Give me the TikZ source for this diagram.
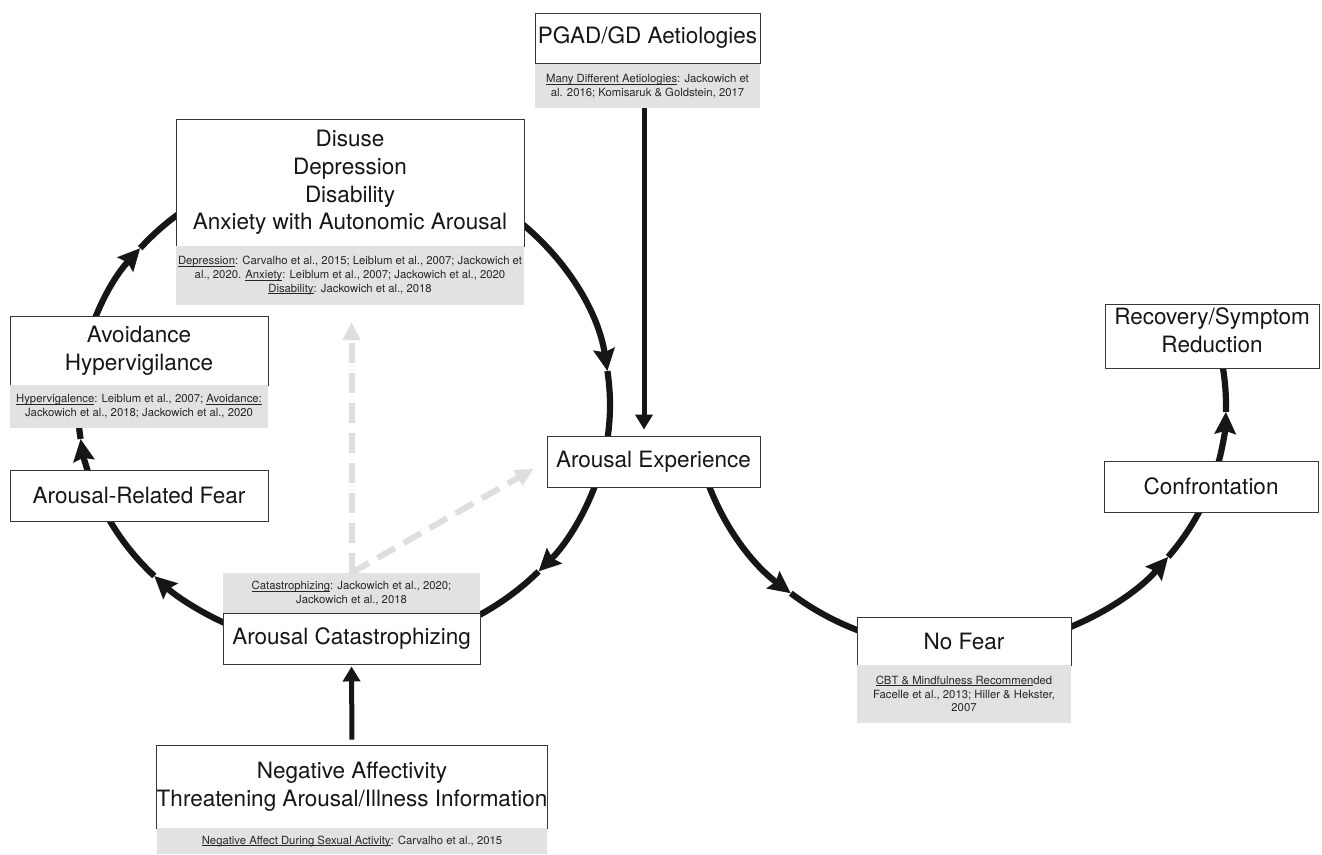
\documentclass[tikz,border=0pt]{standalone}
\usepackage{fontspec}
\setmainfont{TeX Gyre Heros}
\usetikzlibrary{arrows.meta,calc}
\definecolor{citegrey}{RGB}{226,226,226}
\definecolor{dashgrey}{RGB}{222,222,222}
\definecolor{ink}{RGB}{22,22,22}
\newcommand{\bigfnt}{\fontsize{22.5}{27.7}\selectfont}
\newcommand{\smallfnt}{\fontsize{11.3}{13.8}\selectfont}
\newcommand{\ulx}[1]{\leavevmode\setbox0\hbox{#1}\rlap{\rule[-1.7pt]{\wd0}{0.6pt}}\box0}
\begin{document}
\begin{tikzpicture}[x=1pt,y=1pt,
  box/.style={draw=black!78, line width=0.9pt, fill=white, inner sep=0pt, align=center, font=\bigfnt, text=ink},
  boxtext/.style={inner sep=0pt, align=center, font=\bigfnt, text=ink},
  cite/.style={fill=citegrey, inner sep=0pt, align=center, font=\smallfnt, text=black!85},
  flow/.style={line width=6.2pt, draw=ink},
  tipc/.style={-{Stealth[length=22pt,width=21pt,inset=3pt]}},
  straightarr/.style={line width=5pt, draw=ink, -{Triangle[length=15pt,width=17pt]}},
  greyarr/.style={line width=6pt, draw=dashgrey, dash pattern=on 20pt off 10pt, -{Triangle[length=18pt,width=17pt]}},
  ell/.style={x radius=266pt, y radius=244pt}
]
\useasboundingbox (0,0) rectangle (1322,-854);
\coordinate (cL) at (344,-405);
\coordinate (cR) at (960,-405);

% ---- left cycle (ellipse arcs) ----
\draw[flow,tipc] (cL) ++(50:266pt and 244pt) arc[start angle=50, end angle=8, ell];
\draw[flow] (cL) ++(8:266pt and 244pt) arc[start angle=8, end angle=-12, ell];
\draw[flow,tipc] (cL) ++(-16:266pt and 244pt) arc[start angle=-16, end angle=-43, ell];
\draw[flow] (cL) ++(-43:266pt and 244pt) arc[start angle=-43, end angle=-62, ell];
\draw[flow,tipc] (cL) ++(-115:266pt and 244pt) arc[start angle=-115, end angle=-135.5, ell];
\draw[flow] (cL) ++(-135.5:266pt and 244pt) arc[start angle=-135.5, end angle=-155, ell];
\draw[flow,tipc] (cL) ++(-160:266pt and 244pt) arc[start angle=-160, end angle=-172, ell];
\draw[flow] (cL) ++(-172:266pt and 244pt) arc[start angle=-172, end angle=-182, ell];
\draw[flow,tipc] (cL) ++(170:266pt and 244pt) arc[start angle=170, end angle=140, ell];
\draw[flow] (cL) ++(140:266pt and 244pt) arc[start angle=140, end angle=120, ell];

% ---- right path (ellipse arcs) ----
\draw[flow,tipc] (cR) ++(195:266pt and 244pt) arc[start angle=195, end angle=230.5, ell];
\draw[flow] (cR) ++(230.5:266pt and 244pt) arc[start angle=230.5, end angle=250, ell];
\draw[flow,tipc] (cR) ++(290:266pt and 244pt) arc[start angle=290, end angle=321.5, ell];
\draw[flow] (cR) ++(321.5:266pt and 244pt) arc[start angle=321.5, end angle=346, ell];
\draw[flow,tipc] (cR) ++(346:266pt and 244pt) arc[start angle=346, end angle=358.4, ell];
\draw[flow] (cR) ++(358.4:266pt and 244pt) arc[start angle=358.4, end angle=380, ell];

% ---- nodes ----
\node[box, minimum width=225pt, minimum height=50pt] (pgad) at (647.5,-38) {PGAD/GD Aetiologies};
\node[cite, minimum width=225pt, minimum height=44pt] (pgadcite) at (647.5,-86)
  {\ulx{Many Different Aetiologies}: Jackowich et\\al. 2016; Komisaruk \& Goldstein, 2017};

\node[box, minimum width=348pt, minimum height=127pt] (disuse) at (350,-182.5)
  {Disuse\\Depression\\Disability\\Anxiety with Autonomic Arousal};
\node[cite, minimum width=348pt, minimum height=59pt] (discite) at (350,-275.5)
  {\ulx{Depression}: Carvalho et al., 2015; Leiblum et al., 2007; Jackowich et\\al., 2020. \ulx{Anxiety}: Leiblum et al., 2007; Jackowich et al., 2020\\\ulx{Disability}: Jackowich et al., 2018};

\node[box, minimum width=258pt, minimum height=69pt] (avoid) at (139,-350.5) {Avoidance\\Hypervigilance};
\node[cite, minimum width=258pt, minimum height=43pt] (avcite) at (139,-406.5)
  {\ulx{Hypervigalence}: Leiblum et al., 2007; \ulx{Avoidance:}\\Jackowich et al., 2018; Jackowich et al., 2020};

\node[box, minimum width=258pt, minimum height=51pt] (fear) at (139,-495.5) {Arousal-Related Fear};

\node[cite, minimum width=257pt, minimum height=40pt] (catcite) at (351.5,-593)
  {\ulx{Catastrophizing}: Jackowich et al., 2020;\\Jackowich et al., 2018};
\node[box, minimum width=257pt, minimum height=51pt] (cat) at (351.5,-638.5) {Arousal Catastrophizing};

\node[box, minimum width=390pt, minimum height=83pt] (neg) at (352,-786.5)
  {Negative Affectivity\\Threatening Arousal/Illness Information};
\node[cite, minimum width=390pt, minimum height=26pt] (negcite) at (352,-841)
  {\ulx{Negative Affect During Sexual Activity}: Carvalho et al., 2015};

\node[box, minimum width=213pt, minimum height=51pt] (ae) at (653.5,-461.5) {Arousal Experience};

\node[box, minimum width=214pt, minimum height=48pt] (nofear) at (964,-641) {No Fear};
\node[cite, minimum width=214pt, minimum height=58pt] (nfcite) at (964,-694)
  {\ulx{CBT \& Mindfulness Recommen}ded\\Facelle et al., 2013; Hiller \& Hekster,\\2007};

\node[box, minimum width=214pt, minimum height=51pt] (conf) at (1211,-486.5) {Confrontation};
\node[box, minimum width=214pt, minimum height=64pt] (recov) at (1212,-336) {};
\node[boxtext] (recovtext) at (1212,-330) {Recovery/Symptom\\Reduction};

% ---- straight connectors ----
\draw[straightarr, shorten >=6pt] ([xshift=-3.5pt]pgadcite.south) -- ([xshift=-3.5pt]pgadcite.south |- ae.north);
\draw[straightarr, shorten <=5pt, shorten >=2pt] (neg.north) -- (cat.south);

% ---- grey dashed connectors ----
\draw[greyarr, shorten >=17pt] (catcite.north) -- (catcite.north |- discite.south);
\draw[greyarr, shorten >=15pt] (catcite.north) -- (ae.west);
\end{tikzpicture}
\end{document}
